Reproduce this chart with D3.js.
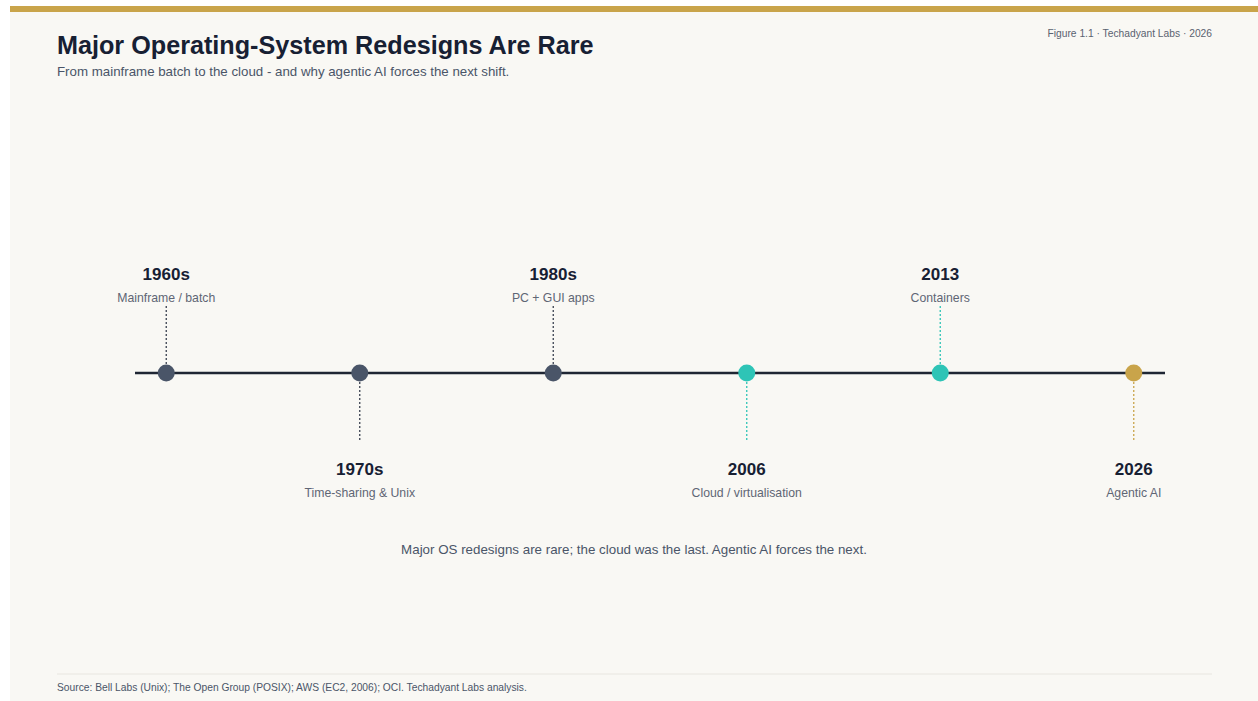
<!DOCTYPE html>
<html>
<head>
<meta charset="utf-8">
<script src="https://cdn.jsdelivr.net/npm/d3@7/dist/d3.min.js"></script>
<style>
  body { margin: 0; background: #ffffff; }
  svg { display: block; font-family: "Liberation Sans", Arial, sans-serif; }
</style>
</head>
<body>
<div id="chart"></div>
<script>
var width = 1258;
var height = 701;

// timeline data
var years = ['1960s', '1970s', '1980s', '2006', '2013', '2026'];
var labels = ['Mainframe / batch', 'Time-sharing & Unix', 'PC + GUI apps', 'Cloud / virtualisation', 'Containers', 'Agentic AI'];
var sides = ['up', 'down', 'up', 'down', 'up', 'down'];
var eras = ['legacy', 'legacy', 'legacy', 'cloud', 'cloud', 'agentic'];

var colorScale = d3.scaleOrdinal()
  .domain(['legacy', 'cloud', 'agentic'])
  .range(['#4a5568', '#2ec4b6', '#c9a44a']);

var data = years.map(function (y, i) {
  return { year: y, label: labels[i], side: sides[i], era: eras[i] };
});

var svg = d3.select('#chart')
  .append('svg')
  .attr('width', width)
  .attr('height', height);

// panel + top bar
svg.append('rect')
  .attr('x', 10).attr('y', 6)
  .attr('width', width - 10).attr('height', height - 6)
  .attr('fill', '#f9f8f4');
svg.append('rect')
  .attr('x', 10).attr('y', 6)
  .attr('width', width - 10).attr('height', 6)
  .attr('fill', '#c9a44a');

svg.append('text')
  .attr('x', 57).attr('y', 54)
  .attr('font-size', 25.2).attr('font-weight', 'bold')
  .attr('fill', '#172033')
  .text('Major Operating-System Redesigns Are Rare');

svg.append('text')
  .attr('x', 57).attr('y', 76)
  .attr('font-size', 13.3).attr('fill', '#4a5568')
  .text('From mainframe batch to the cloud - and why agentic AI forces the next shift.');

svg.append('text')
  .attr('x', 1212).attr('y', 37)
  .attr('text-anchor', 'end')
  .attr('font-size', 10.25).attr('fill', '#5a6270')
  .text('Figure 1.1 \u00b7 Techadyant Labs \u00b7 2026');

var axisY = 373;
var x = d3.scalePoint()
  .domain(years)
  .range([135, 1165])
  .padding(0.1615);

svg.append('line')
  .attr('x1', 135).attr('x2', 1165)
  .attr('y1', axisY).attr('y2', axisY)
  .attr('stroke', '#1f2633')
  .attr('stroke-width', 2.5);

var groups = svg.selectAll('.event')
  .data(data)
  .enter()
  .append('g')
  .attr('class', 'event')
  .attr('transform', function (d) { return 'translate(' + x(d.year) + ',' + axisY + ')'; });

groups.append('line')
  .attr('x1', 0).attr('x2', 0)
  .attr('y1', function (d) { return d.side === 'up' ? -9 : 9; })
  .attr('y2', function (d) { return d.side === 'up' ? -68 : 68; })
  .attr('stroke', function (d) { return d.era === 'legacy' ? '#3a4150' : colorScale(d.era); })
  .attr('stroke-width', 1.3)
  .attr('stroke-dasharray', '2,2');

groups.append('circle')
  .attr('r', 8.5)
  .attr('fill', function (d) { return colorScale(d.era); });

groups.append('text')
  .attr('text-anchor', 'middle')
  .attr('y', function (d) { return d.side === 'up' ? -93 : 102; })
  .attr('font-size', 17).attr('font-weight', 'bold')
  .attr('fill', '#172033')
  .text(function (d) { return d.year; });

groups.append('text')
  .attr('text-anchor', 'middle')
  .attr('y', function (d) { return d.side === 'up' ? -71 : 124; })
  .attr('font-size', 12.25)
  .attr('fill', '#5f6675')
  .text(function (d) { return d.label; });

svg.append('text')
  .attr('x', 634).attr('y', 554)
  .attr('text-anchor', 'middle')
  .attr('font-size', 13.35).attr('fill', '#4a5568')
  .text('Major OS redesigns are rare; the cloud was the last. Agentic AI forces the next.');

svg.append('line')
  .attr('x1', 57).attr('x2', 1212)
  .attr('y1', 674).attr('y2', 674)
  .attr('stroke', '#e8e6e0').attr('stroke-width', 1);

svg.append('text')
  .attr('x', 57).attr('y', 691)
  .attr('font-size', 10.25).attr('fill', '#4a5568')
  .text('Source: Bell Labs (Unix); The Open Group (POSIX); AWS (EC2, 2006); OCI. Techadyant Labs analysis.');
</script>
</body>
</html>
